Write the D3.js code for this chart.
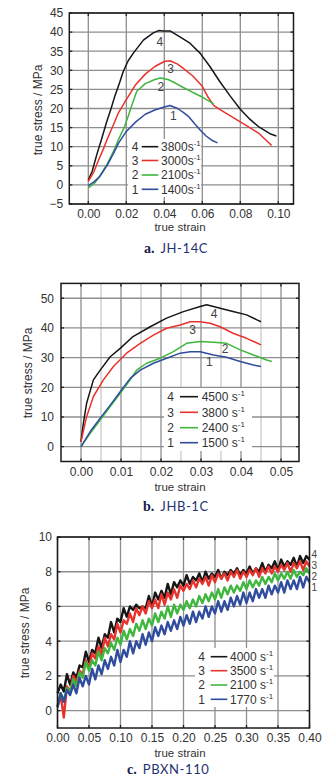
<!DOCTYPE html>
<html><head><meta charset="utf-8">
<script src="https://cdn.jsdelivr.net/npm/d3@7"></script>
<style>body{margin:0;background:#fff}svg{display:block}</style>
</head><body>
<svg id="chart" width="335" height="783"></svg>
<script>
// ---------- Panel a: JH-14C ----------
const a_3800 = [[0,1.3],[0.002,3.5],[0.0044,7.8],[0.007,12.0],[0.0096,16.4],[0.012,20.0],[0.014,23.3],[0.0165,26.8],[0.0184,29.7],[0.021,32.5],[0.0237,34.5],[0.029,37.9],[0.0342,39.8],[0.037,40.4],[0.0395,40.3],[0.043,40.3],[0.048,38.8],[0.0535,37.1],[0.0588,34.5],[0.064,31.0],[0.069,27.2],[0.0746,23.3],[0.080,19.8],[0.085,17.2],[0.090,15.1],[0.0956,13.4],[0.099,12.8]];
const a_3000 = [[0,0.9],[0.003,3.5],[0.005,6.0],[0.008,9.5],[0.01,12.0],[0.013,15.5],[0.016,19.0],[0.02,22.3],[0.025,26.3],[0.03,29.0],[0.035,31.0],[0.04,32.3],[0.043,32.5],[0.047,31.6],[0.05,30.5],[0.055,28.5],[0.06,25.8],[0.063,23.0],[0.066,20.8],[0.07,19.5],[0.075,18.0],[0.08,16.5],[0.085,15.0],[0.09,13.4],[0.094,11.5],[0.0965,10.3]];
const a_2100 = [[0,-0.8],[0.003,0.3],[0.006,2.2],[0.01,5.5],[0.013,8.5],[0.016,12.0],[0.019,15.2],[0.021,18.0],[0.023,21.0],[0.0255,24.5],[0.03,26.5],[0.035,27.6],[0.038,28.0],[0.042,27.6],[0.046,26.6],[0.05,25.5],[0.055,24.2],[0.06,23.0],[0.064,21.8],[0.066,21.2]];
const a_1400 = [[0,-0.2],[0.003,0.8],[0.006,2.2],[0.01,5.2],[0.013,8.0],[0.016,11.0],[0.02,14.0],[0.025,16.5],[0.03,18.5],[0.035,19.6],[0.04,20.4],[0.043,20.8],[0.047,20.0],[0.05,19.0],[0.053,17.8],[0.056,16.0],[0.059,14.3],[0.062,12.8],[0.065,11.7],[0.068,11.0]];
const a_rates = ["3800","3000","2100","1400"];
const a_xTicks = [0,0.02,0.04,0.06,0.08,0.10];
const a_yTicks = [-5,0,5,10,15,20,25,30,35,40,45];
const a_curveLabels = [[0.0377,37.5],[0.0433,30.3],[0.0382,25.8],[0.0447,18.1]];

// ---------- Panel b: JHB-1C ----------
const b_4500 = [[0,1.7],[0.0006,7.9],[0.0014,14.6],[0.0031,22.5],[0.0048,25.8],[0.0073,30.3],[0.0098,33.1],[0.013,37.1],[0.0173,40.4],[0.0214,43.3],[0.0256,45.5],[0.0298,47.2],[0.0314,47.8],[0.0348,46.6],[0.038,45.5],[0.0414,44.4],[0.044,42.7],[0.045,42.1]];
const b_3800 = [[0,1.7],[0.0014,10.1],[0.0031,16.9],[0.0056,22.5],[0.0081,27.0],[0.0114,31.5],[0.0148,34.8],[0.0181,37.6],[0.0214,39.9],[0.0248,41.0],[0.0273,42.1],[0.0298,42.1],[0.0323,41.6],[0.0348,40.4],[0.038,38.2],[0.0414,36.5],[0.045,34.3]];
const b_2400 = [[0,0],[0.0023,4.5],[0.0048,9.0],[0.0073,13.5],[0.0098,18.0],[0.0123,22.5],[0.0139,25.8],[0.0164,28.1],[0.0198,29.8],[0.0231,32.0],[0.0264,34.8],[0.0298,35.4],[0.0331,35.2],[0.0364,34.8],[0.0398,32.6],[0.0431,30.9],[0.0464,29.2],[0.0477,28.7]];
const b_1500 = [[0,0],[0.0023,5.1],[0.0048,9.6],[0.0073,14.0],[0.0098,18.5],[0.0123,23.0],[0.0148,25.8],[0.0181,28.1],[0.0214,29.8],[0.0248,31.5],[0.0273,32.0],[0.0298,32.0],[0.0331,30.9],[0.0364,30.1],[0.0398,28.7],[0.0431,27.5],[0.045,27.0]];
const b_rates = ["4500","3800","2400","1500"];
const b_xTicks = [0,0.01,0.02,0.03,0.04,0.05];
const b_xMinor = [0.005,0.015,0.025,0.035,0.045];
const b_yTicks = [0,10,20,30,40,50];
const b_curveLabels = [[0.0333,44.9],[0.0279,39.3],[0.036,32.8],[0.0321,28.7]];

// ---------- Panel c: PBXN-110 ----------
const c_strain = [0,0.005,0.01,0.015,0.02,0.025,0.03,0.035,0.04,0.045,0.05,0.055,0.06,0.065,0.07,0.075,0.08,0.085,0.09,0.095,0.1,0.105,0.11,0.115,0.12,0.125,0.13,0.135,0.14,0.145,0.15,0.155,0.16,0.165,0.17,0.175,0.18,0.185,0.19,0.195,0.2,0.205,0.21,0.215,0.22,0.225,0.23,0.235,0.24,0.245,0.25,0.255,0.26,0.265,0.27,0.275,0.28,0.285,0.29,0.295,0.3,0.305,0.31,0.315,0.32,0.325,0.33,0.335,0.34,0.345,0.35,0.355,0.36,0.365,0.37,0.375,0.38,0.385,0.39,0.395,0.4];
const c_4000 = [1.0,1.5,1.1,2.1,1.5,2.2,1.9,2.6,2.5,3.4,2.8,3.5,3.3,4.2,3.6,4.4,4.2,5.1,4.5,5.3,5.1,5.9,5.4,6.0,5.8,6.1,5.9,6.0,5.9,6.6,6.0,6.8,6.4,6.9,6.5,7.3,6.7,7.4,7.1,7.5,7.2,7.8,7.3,7.7,7.5,7.9,7.4,8.0,7.6,7.9,7.7,8.1,7.6,8.0,7.8,8.1,7.9,8.2,7.8,8.1,7.9,8.3,7.9,8.2,8.0,8.5,8.0,8.4,8.2,8.6,8.1,8.7,8.3,8.6,8.4,8.8,8.3,8.9,8.5,8.9,8.7];
const c_3500 = [0.2,0.9,-0.4,1.4,1.1,2.0,1.6,2.3,2.1,2.9,2.4,3.3,3.0,3.7,3.2,4.2,3.7,4.4,4.1,5.0,4.5,5.2,5.0,5.6,5.1,5.9,5.5,6.0,5.6,6.3,5.9,6.4,5.9,6.7,6.1,6.8,6.4,7.0,6.5,7.2,6.9,7.3,7.0,7.5,7.1,7.6,7.3,7.7,7.2,7.8,7.4,7.9,7.6,7.9,7.5,8.0,7.7,8.1,7.6,8.0,7.7,8.1,7.8,8.2,7.7,8.2,7.9,8.3,7.9,8.3,8.0,8.4,8.1,8.5,8.0,8.5,8.2,8.6,8.1,8.6,8.3];
const c_2100 = [0.3,1.0,0.6,1.3,1.1,1.8,1.4,2.2,1.9,2.8,2.3,2.9,2.6,3.4,2.9,3.6,3.3,3.9,3.5,4.2,3.8,4.6,4.1,4.7,4.3,5.0,4.6,5.2,4.7,5.3,4.9,5.6,5.1,5.7,5.3,6.0,5.4,6.1,5.6,6.1,5.8,6.3,5.9,6.4,6.0,6.6,6.2,6.7,6.3,6.8,6.4,7.0,6.5,7.1,6.7,7.2,6.8,7.2,6.9,7.4,7.0,7.5,7.1,7.5,7.2,7.7,7.3,7.7,7.4,7.9,7.5,7.9,7.6,8.0,7.6,8.1,7.7,8.0,7.8,8.2,7.9];
const c_1770 = [0.2,1.0,0.5,1.2,0.9,1.5,1.0,1.9,1.4,2.0,1.5,2.4,1.8,2.6,2.1,2.9,2.4,3.1,2.6,3.5,2.8,3.5,3.1,4.0,3.3,4.0,3.6,4.4,3.8,4.5,4.0,4.8,4.3,4.9,4.4,5.1,4.6,5.2,4.7,5.4,4.9,5.5,5.0,5.7,5.1,5.7,5.3,6.0,5.4,6.0,5.6,6.3,5.7,6.3,5.8,6.5,6.0,6.6,6.1,6.8,6.2,6.8,6.3,7.0,6.5,7.0,6.5,7.2,6.7,7.2,6.8,7.4,6.8,7.5,7.0,7.5,7.0,7.7,7.1,7.7,7.4];
const c_rates = ["4000","3500","2100","1770"];
const c_xTicks = [0,0.05,0.10,0.15,0.20,0.25,0.30,0.35,0.40];
const c_yTicks = [0,2,4,6,8,10];
const c_curveLabels = [[0.4,9.0],[0.4,8.36],[0.4,7.72],[0.4,7.07]];

const seriesNames = ["4","3","2","1"];
const colors = ["#161616","#e8332c","#3fb63d","#2f4c9f"];

const FONT = '"Liberation Sans Narrow","Arial Narrow","Liberation Sans",Arial,sans-serif';
const svg = d3.select("#chart");

function drawPanel(p){
  const g = svg.append("g");
  const x = d3.scaleLinear().domain(p.xDomain).range([p.L,p.R]);
  const y = d3.scaleLinear().domain(p.yDomain).range([p.B,p.T]);
  if (p.xMinor) {
    g.selectAll(null).data(p.xMinor).join("line")
      .attr("x1",d=>x(d)).attr("x2",d=>x(d)).attr("y1",p.T).attr("y2",p.B)
      .attr("stroke","#c9c9c9").attr("stroke-width",1.3);
  }
  g.selectAll(null).data(p.xTicks).join("line")
    .attr("x1",d=>x(d)).attr("x2",d=>x(d)).attr("y1",p.T).attr("y2",p.B)
    .attr("stroke","#8e8e8e").attr("stroke-width",1.3);
  g.selectAll(null).data(p.yTicks).join("line")
    .attr("y1",d=>y(d)).attr("y2",d=>y(d)).attr("x1",p.L).attr("x2",p.R)
    .attr("stroke","#8e8e8e").attr("stroke-width",1.3);
  const tk = g.append("g").attr("stroke","#222").attr("stroke-width",1.3);
  p.xTicks.forEach(d=>{
    tk.append("line").attr("x1",x(d)).attr("x2",x(d)).attr("y1",p.B).attr("y2",p.B-3);
    tk.append("line").attr("x1",x(d)).attr("x2",x(d)).attr("y1",p.T).attr("y2",p.T+3);
  });
  p.yTicks.forEach(d=>{
    tk.append("line").attr("y1",y(d)).attr("y2",y(d)).attr("x1",p.L).attr("x2",p.L+3);
    tk.append("line").attr("y1",y(d)).attr("y2",y(d)).attr("x1",p.R).attr("x2",p.R-3);
  });
  g.append("rect").attr("x",p.leg.x0).attr("y",p.leg.y0)
    .attr("width",p.leg.x1-p.leg.x0).attr("height",p.leg.y1-p.leg.y0).attr("fill","#fff");
  const line = d3.line().x(d=>x(d[0])).y(d=>y(d[1]));
  p.series.forEach((s,i)=>{
    g.append("path").datum(s).attr("d",line).attr("fill","none")
      .attr("stroke",colors[i]).attr("stroke-width",p.lw).attr("stroke-linejoin","round");
  });
  g.append("rect").attr("x",p.L).attr("y",p.T).attr("width",p.R-p.L).attr("height",p.B-p.T)
    .attr("fill","none").attr("stroke","#1a1a1a").attr("stroke-width",1.5);
  const ax = g.append("g").attr("transform",`translate(0,${p.B})`)
    .call(d3.axisBottom(x).tickValues(p.xTicks).tickFormat(d3.format(".2f")).tickSize(0).tickPadding(p.xPad));
  const ay = g.append("g").attr("transform",`translate(${p.L},0)`)
    .call(d3.axisLeft(y).tickValues(p.yTicks).tickFormat(d3.format("d")).tickSize(0).tickPadding(p.yPad));
  [ax,ay].forEach(a=>{
    a.select(".domain").remove();
    a.attr("font-family",null).attr("font-size",null);
    a.selectAll("text").attr("font-family",FONT).attr("font-size",12).attr("fill","#333");
  });
  g.append("text").attr("x",p.xtX).attr("y",p.xtY).attr("text-anchor","middle")
    .attr("font-family",FONT).attr("font-size",11.5).attr("fill","#333").text("true strain");
  g.append("text").attr("transform",`translate(${p.ytX},${p.ytY}) rotate(-90)`).attr("text-anchor","middle")
    .attr("font-family",FONT).attr("font-size",12).attr("fill","#333").text("true stress / MPa");
  p.curveLabels.forEach((c,i)=>{
    g.append("text").attr("x",x(c[0])+(p.labDx||0)).attr("y",y(c[1])).attr("dy","0.35em")
      .attr("text-anchor",p.labAnchor||"middle").attr("font-family",FONT).attr("font-size",p.labSize||12)
      .attr("fill","#444").text(seriesNames[i]);
  });
  p.rates.forEach((r,i)=>{
    const yy = p.leg.rows[i];
    g.append("text").attr("x",p.leg.numX).attr("y",yy).attr("dy","0.35em").attr("text-anchor","middle")
      .attr("font-family",FONT).attr("font-size",12).attr("fill","#333").text(seriesNames[i]);
    g.append("line").attr("x1",p.leg.l0).attr("x2",p.leg.l1).attr("y1",yy).attr("y2",yy)
      .attr("stroke",colors[i]).attr("stroke-width",1.6);
    const t = g.append("text").attr("x",p.leg.tx).attr("y",yy).attr("dy","0.35em")
      .attr("font-family",FONT).attr("font-size",12).attr("fill","#333");
    t.append("tspan").text(r + p.leg.sep + "s");
    t.append("tspan").attr("font-size",8).attr("dy","-0.6em").text("-1");
  });
  const cap = g.append("text").attr("x",p.capX).attr("y",p.capY);
  cap.append("tspan").attr("font-family",'"Liberation Serif","DejaVu Serif",serif').attr("font-weight","bold")
    .attr("font-size",14).attr("fill","#16204a").text(p.capLetter);
  cap.append("tspan").attr("dx",6).attr("font-family",'Lato,"Open Sans",sans-serif').attr("font-size",13)
    .attr("letter-spacing",0.6).attr("fill","#1f3173").text(p.capName);
}

drawPanel({
  xDomain:[-0.01,0.108], yDomain:[-5,45], L:69.3, R:293.5, T:13, B:204,
  xTicks:a_xTicks, yTicks:a_yTicks, xPad:5, yPad:6, lw:1.5,
  series:[a_3800,a_3000,a_2100,a_1400], rates:a_rates, curveLabels:a_curveLabels,
  leg:{x0:128,x1:201,y0:139,y1:197,rows:[146.7,160.5,175,189.3],numX:135,l0:141.7,l1:158.3,tx:161,sep:""},
  xtX:180, xtY:231, ytX:42, ytY:110,
  capX:144, capY:252.5, capLetter:"a.", capName:"JH-14C"
});
drawPanel({
  xDomain:[-0.005,0.0545], yDomain:[-5,55], L:61, R:299, T:283.4, B:461.5,
  xTicks:b_xTicks, xMinor:b_xMinor, yTicks:b_yTicks, xPad:5.5, yPad:7, lw:1.5,
  series:[b_4500,b_3800,b_2400,b_1500], rates:b_rates, curveLabels:b_curveLabels,
  leg:{x0:164,x1:252,y0:388,y1:451,rows:[396.7,412.3,427.7,442.7],numX:170.7,l0:180,l1:198,tx:201.7,sep:" "},
  xtX:180, xtY:490.5, ytX:32, ytY:373,
  capX:143, capY:510.5, capLetter:"b.", capName:"JHB-1C"
});
drawPanel({
  xDomain:[0,0.4], yDomain:[-1,10], L:57.5, R:309.5, T:537, B:728,
  xTicks:c_xTicks, yTicks:c_yTicks, xPad:5, yPad:5.5, lw:2.4,
  series:[c_4000,c_3500,c_2100,c_1770].map(v=>v.map((s,i)=>[c_strain[i],s])),
  rates:c_rates, curveLabels:c_curveLabels, labDx:2, labAnchor:"start", labSize:10,
  leg:{x0:195,x1:274,y0:648,y1:707,rows:[656.7,670.7,685,699.3],numX:201.7,l0:210.7,l1:227.3,tx:230,sep:" "},
  xtX:180, xtY:756.5, ytX:29, ytY:633,
  capX:127, capY:774, capLetter:"c.", capName:"PBXN-110"
});
</script>
</body></html>
